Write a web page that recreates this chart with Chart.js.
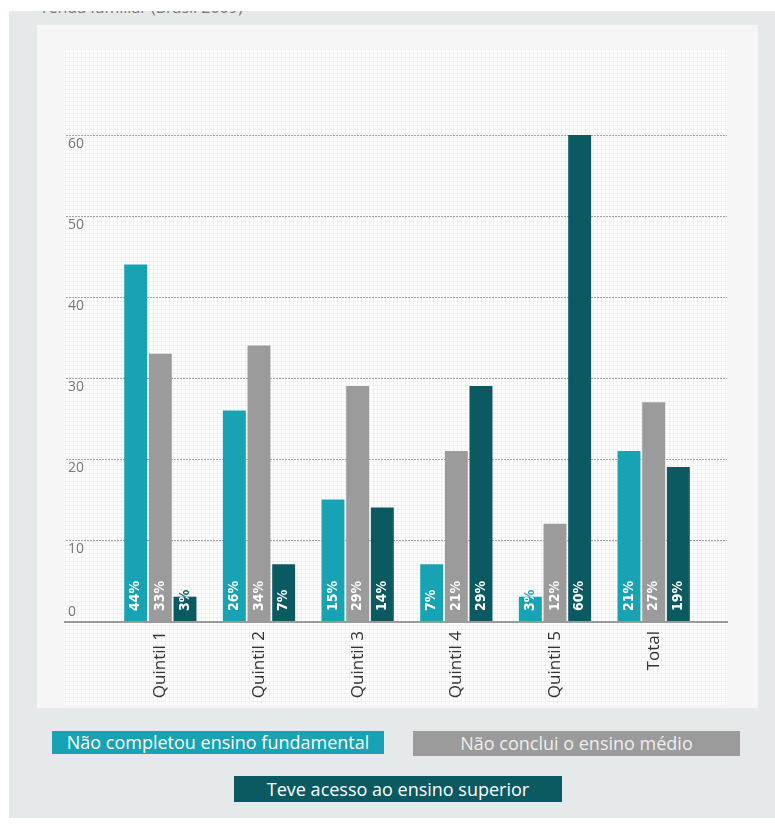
<!DOCTYPE html>
<html lang="pt-BR">
<head>
    <meta charset="UTF-8">
    <title>Escolaridade por quintil de renda familiar</title>
    <script src="https://cdn.jsdelivr.net/npm/chart.js"></script>
    <style>
        body {
            margin: 0;
            background: #fff;
            font-family: 'Open Sans', sans-serif;
        }
        .outer {
            position: absolute;
            left: 9px;
            top: 11px;
            width: 766px;
            height: 807px;
            background: #e6e9e9;
            overflow: hidden;
        }
        .title {
            position: absolute;
            left: 33px;
            top: -15px;
            font-size: 16px;
            color: #777;
            white-space: nowrap;
        }
        .panel {
            position: absolute;
            left: 28px;
            top: 14px;
            width: 721px;
            height: 683px;
            background: #f6f6f6;
        }
        .legend-item {
            position: absolute;
            color: #fff;
            font-size: 18px;
            text-align: center;
            white-space: nowrap;
        }
        .legend-item:nth-child(1) { left: 43px; top: 720px; width: 332px; height: 23px; line-height: 23px; }
        .legend-item:nth-child(2) { left: 404px; top: 720px; width: 327px; height: 25px; line-height: 25px; color: #eee; }
        .legend-item:nth-child(3) { left: 225px; top: 765px; width: 328px; height: 26px; line-height: 26px; }
    </style>
</head>
<body>
<div class="outer">
    <div class="title">renda familiar (Brasil 2009)</div>
    <div class="panel">
        <canvas id="chart" width="721" height="683"></canvas>
    </div>
    <div id="legend"></div>
</div>
<script>
    const categories = ['Quintil 1', 'Quintil 2', 'Quintil 3', 'Quintil 4', 'Quintil 5', 'Total'];
    const seriesNames = [
        'Não completou ensino fundamental',
        'Não conclui o ensino médio',
        'Teve acesso ao ensino superior'
    ];
    const semFundamental = [44, 26, 15, 7, 3, 21];
    const semMedio = [33, 34, 29, 21, 12, 27];
    const superior = [3, 7, 14, 29, 60, 19];
    const yTicks = [0, 10, 20, 30, 40, 50, 60];

    const colors = ['#18a3b4', '#9b9b9b', '#0b5a62'];

    // legend boxes as plain html
    const legend = document.getElementById('legend');
    seriesNames.forEach((name, i) => {
        const d = document.createElement('div');
        d.className = 'legend-item';
        d.style.background = colors[i];
        d.textContent = name;
        legend.appendChild(d);
    });

    // fine grid paper texture behind the plot
    function makePattern(ctx) {
        const c = document.createElement('canvas');
        c.width = 4;
        c.height = 4;
        const p = c.getContext('2d');
        p.fillStyle = '#ffffff';
        p.fillRect(0, 0, 4, 4);
        p.fillStyle = '#f0f0f0';
        p.fillRect(0, 0, 4, 1);
        p.fillRect(0, 0, 1, 4);
        return ctx.createPattern(c, 'repeat');
    }

    const backdrop = {
        id: 'backdrop',
        beforeDraw(chart) {
            const ctx = chart.ctx;
            const y = chart.scales.y;
            ctx.save();
            ctx.fillStyle = makePattern(ctx);
            ctx.fillRect(27, 25, 663, 656);

            // dotted grid lines
            ctx.strokeStyle = '#a4a4a4';
            ctx.lineWidth = 1;
            ctx.setLineDash([2, 1]);
            yTicks.forEach(v => {
                if (v === 0) return;
                const py = Math.round(y.getPixelForValue(v)) + 0.5;
                ctx.beginPath();
                ctx.moveTo(29, py);
                ctx.lineTo(690, py);
                ctx.stroke();
            });
            ctx.setLineDash([]);

            // y labels sit inside the plot, under their line (0 sits above)
            ctx.fillStyle = '#777';
            ctx.font = '14px "Open Sans", sans-serif';
            ctx.textAlign = 'left';
            ctx.textBaseline = 'middle';
            yTicks.forEach(v => {
                const py = y.getPixelForValue(v);
                ctx.fillText(String(v), 31, v === 0 ? py - 9 : py + 9);
            });
            ctx.restore();
        },
        afterDatasetsDraw(chart) {
            const ctx = chart.ctx;
            const y = chart.scales.y;
            const base = y.getPixelForValue(0);
            ctx.save();
            ctx.strokeStyle = '#9a9a9a';
            ctx.lineWidth = 2;
            ctx.beginPath();
            ctx.moveTo(27, base + 1);
            ctx.lineTo(691, base + 1);
            ctx.stroke();

            ctx.font = 'bold 14px "Liberation Sans Narrow", "DejaVu Sans Condensed", sans-serif';
            ctx.textAlign = 'left';
            ctx.textBaseline = 'middle';
            chart.data.datasets.forEach((ds, di) => {
                chart.getDatasetMeta(di).data.forEach((bar, i) => {
                    const txt = ds.data[i] + '%';
                    const draw = color => {
                        ctx.save();
                        ctx.translate(bar.x, bar.base - 10);
                        ctx.rotate(-Math.PI / 2);
                        ctx.fillStyle = color;
                        ctx.fillText(txt, 0, 0);
                        ctx.restore();
                    };
                    // text outside a short bar takes the bar colour
                    draw(ds.backgroundColor);
                    ctx.save();
                    ctx.beginPath();
                    ctx.rect(bar.x - bar.width / 2, bar.y, bar.width, bar.base - bar.y);
                    ctx.clip();
                    draw('#ffffff');
                    ctx.restore();
                });
            });
            ctx.restore();
        }
    };

    new Chart(document.getElementById('chart'), {
        type: 'bar',
        data: {
            labels: categories,
            datasets: [semFundamental, semMedio, superior].map((data, i) => ({
                label: seriesNames[i],
                data: data,
                backgroundColor: colors[i],
                borderWidth: 0,
                categoryPercentage: 0.75,
                barPercentage: 0.93
            }))
        },
        options: {
            responsive: false,
            animation: false,
            layout: { padding: { left: 74, right: 55, top: 29, bottom: 0 } },
            plugins: {
                legend: { display: false },
                tooltip: { enabled: false }
            },
            scales: {
                y: { display: false, min: 0, max: 70 },
                x: {
                    grid: { display: false, drawTicks: false },
                    border: { display: false },
                    ticks: {
                        color: '#333',
                        font: { family: 'Open Sans', size: 17 },
                        minRotation: 90,
                        maxRotation: 90,
                        autoSkip: false,
                        padding: 10
                    },
                    afterFit: s => { s.height = 87; }
                }
            }
        },
        plugins: [backdrop]
    });
</script>
</body>
</html>
